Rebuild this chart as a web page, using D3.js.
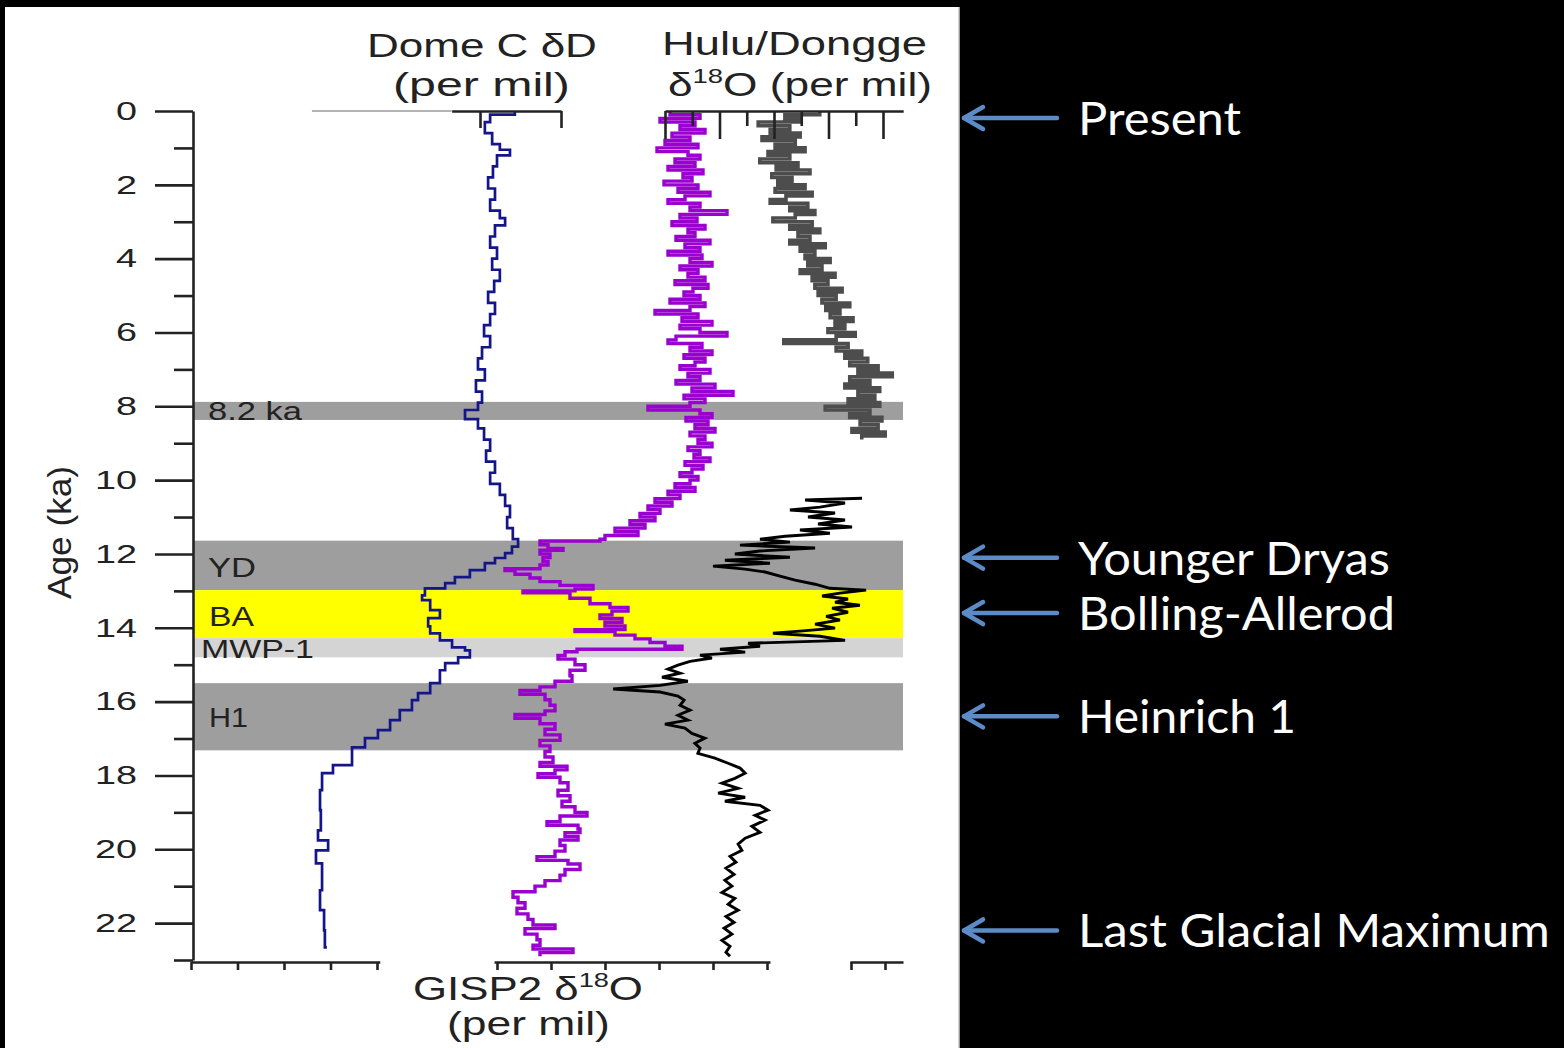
<!DOCTYPE html>
<html>
<head>
<meta charset="utf-8">
<script src="https://cdn.jsdelivr.net/npm/d3@7"></script>
<style>
  html, body { margin: 0; padding: 0; background: #000; }
  svg { display: block; }
</style>
</head>
<body>
<svg id="chart" width="1564" height="1048"></svg>
<script>
// ---- data (age in ka, isotope values in per mil) ----

// Dome C deltaD (blue)
const domeAge = [
  0.0, 0.1, 0.3, 0.6, 0.9, 1.05, 1.2, 1.5, 1.8, 2.1,
  2.4, 2.7, 2.9, 3.1, 3.4, 3.7, 4.0, 4.3, 4.6, 4.9,
  5.2, 5.5, 5.8, 6.1, 6.4, 6.7, 7.0, 7.3, 7.6, 7.9,
  8.1, 8.35, 8.6, 8.9, 9.2, 9.5, 9.8, 10.1, 10.4, 10.7,
  11.0, 11.3, 11.6, 11.8, 11.98, 12.11, 12.25, 12.44, 12.63, 12.79,
  12.93, 13.12, 13.25, 13.52, 13.74, 13.96, 14.15, 14.34, 14.53, 14.61,
  14.80, 14.96, 15.15, 15.50, 15.77, 15.96, 16.23, 16.50, 16.77, 16.99,
  17.24, 17.72, 17.94, 18.40, 18.94, 19.49, 19.76, 20.03, 20.38, 21.11,
  21.65, 22.2, 22.66
];
const domeDD = [
  -391.4, -397.5, -398.8, -397.0, -395.1, -392.6, -395.8, -396.8, -398.0, -396.3,
  -397.5, -395.1, -393.8, -396.3, -397.5, -395.8, -397.0, -395.1, -396.5, -398.0,
  -396.3, -397.5, -399.0, -397.5, -399.5, -400.5, -398.8, -401.0, -399.5, -400.5,
  -403.7, -400.5, -399.0, -397.5, -398.5, -396.3, -397.5, -395.1, -393.8, -392.6,
  -393.3, -391.9, -390.6, -392.1, -393.8, -396.3, -398.8, -402.5, -406.2, -408.6,
  -413.6, -414.3, -412.3, -409.9, -412.8, -412.3, -409.9, -406.9, -403.7, -402.5,
  -405.4, -408.6, -409.9, -412.3, -415.3, -416.8, -419.8, -422.2, -425.2, -428.4,
  -431.6, -436.3, -439.0, -439.5, -439.3, -440.0, -437.5, -440.5, -439.0, -439.5,
  -438.5, -438.3, -437.8
];

// Hulu cave d18O (purple)
const huluAge = [
  0.0, 0.1, 0.2, 0.3, 0.4, 0.5, 0.6, 0.7, 0.8, 0.9,
  1.0, 1.1, 1.2, 1.3, 1.4, 1.5, 1.6, 1.7, 1.8, 1.9,
  2.0, 2.1, 2.2, 2.3, 2.4, 2.5, 2.6, 2.7, 2.8, 2.9,
  3.0, 3.1, 3.2, 3.3, 3.4, 3.5, 3.6, 3.7, 3.8, 3.9,
  4.0, 4.1, 4.2, 4.3, 4.4, 4.5, 4.6, 4.7, 4.8, 4.9,
  5.0, 5.1, 5.2, 5.3, 5.4, 5.5, 5.6, 5.7, 5.8, 5.9,
  6.0, 6.1, 6.2, 6.3, 6.4, 6.5, 6.6, 6.7, 6.8, 6.9,
  7.0, 7.1, 7.2, 7.3, 7.4, 7.5, 7.6, 7.7, 7.8, 7.9,
  8.0, 8.1, 8.2, 8.3, 8.4, 8.5, 8.6, 8.7, 8.8, 8.9,
  9.0, 9.1, 9.2, 9.3, 9.4, 9.5, 9.6, 9.7, 9.8, 9.9,
  10.0, 10.1, 10.2, 10.3, 10.4, 10.5, 10.6, 10.7, 10.8, 10.9,
  11.0, 11.1, 11.2, 11.3, 11.4, 11.5, 11.6,
  11.65, 11.75, 11.85, 11.9, 12.0, 12.1, 12.2, 12.3, 12.4, 12.45,
  12.55, 12.65, 12.75, 12.85, 12.95, 13.0, 13.05, 13.2, 13.35, 13.45,
  13.55, 13.65, 13.75, 13.85, 13.95, 14.05, 14.1, 14.2, 14.3, 14.4,
  14.5, 14.58, 14.65, 14.75, 14.85, 15.0, 15.15, 15.3, 15.45, 15.6,
  15.7, 15.8, 15.95, 16.1, 16.25, 16.35, 16.45, 16.6, 16.75, 16.9,
  17.05, 17.2, 17.35, 17.5, 17.65, 17.75, 17.85, 17.95, 18.05, 18.2,
  18.4, 18.55, 18.7, 18.85, 19.0, 19.1, 19.25, 19.35, 19.45, 19.55,
  19.65, 19.75, 19.9, 20.05, 20.2, 20.3, 20.4, 20.55, 20.7, 20.85,
  21.0, 21.15, 21.3, 21.45, 21.6, 21.75, 21.9, 22.05, 22.15, 22.3,
  22.45, 22.6, 22.7, 22.8, 22.9
];
const huluD18O = [
  -8.6, -9.2, -8.4, -9.1, -8.8, -9.3, -8.64, -9.0, -8.5, -9.16,
  -8.34, -8.96, -9.2, -8.7, -9.1, -8.56, -9.26, -8.86, -9.04, -8.48,
  -9.16, -8.76, -9.4, -8.9, -8.56, -9.2, -9.0, -9.74, -8.8, -9.14,
  -8.64, -9.3, -8.96, -9.1, -8.72, -9.4, -8.9, -9.2, -8.56, -9.24,
  -9.0, -9.44, -8.8, -9.16, -8.96, -9.3, -8.7, -9.36, -9.06, -8.88,
  -9.2, -8.6, -9.3, -9.0, -8.3, -9.16, -8.84, -9.44, -8.8, -9.2,
  -9.74, -8.72, -8.56, -9.24, -9.0, -9.44, -8.88, -9.3, -9.1, -8.8,
  -9.4, -8.96, -9.2, -8.72, -9.5, -9.04, -9.86, -8.88, -9.3, -9.0,
  -8.16, -9.2, -9.44, -8.92, -9.36, -9.1, -9.5, -9.0, -9.3, -9.16,
  -9.44, -8.96, -9.2, -9.08, -9.4, -8.9, -9.26, -9.04, -8.8, -9.16,
  -9.0, -8.7, -9.1, -8.56, -8.8, -8.3, -8.64, -8.16, -8.4, -8.0,
  -8.3, -7.8, -8.1, -7.5, -7.96, -7.3, -7.2,
  -6.0, -6.16, -6.46, -6.0, -6.2, -6.06, -6.16, -6.0, -5.3, -5.5,
  -5.8, -6.0, -6.4, -7.06, -6.7, -5.66, -6.6, -7.0, -7.4, -7.76,
  -7.44, -7.2, -7.64, -7.3, -7.7, -6.7, -7.5, -7.9, -8.2, -8.5,
  -8.84, -6.74, -6.5, -6.36, -6.7, -6.9, -6.6, -6.64, -6.3, -6.0,
  -5.6, -6.1, -6.2, -6.3, -6.1, -5.5, -6.0, -6.3, -6.1, -6.4,
  -6.0, -6.2, -6.1, -6.26, -6.0, -6.54, -6.3, -5.96, -6.4, -6.56,
  -6.36, -6.6, -6.44, -6.7, -6.94, -6.4, -6.14, -6.76, -6.8, -6.5,
  -6.76, -6.4, -6.5, -6.3, -5.94, -6.56, -6.8, -6.5, -6.4, -6.1,
  -5.9, -5.46, -5.56, -5.7, -5.54, -5.76, -5.86, -6.3, -5.7, -5.94,
  -6.0, -5.86, -6.66, -6.0, -6.0
];

// Dongge cave d18O (dark grey)
const donggeAge = [
  0.0, 0.1, 0.2, 0.3, 0.4, 0.5, 0.6, 0.7, 0.8, 0.9,
  1.0, 1.1, 1.2, 1.3, 1.4, 1.5, 1.6, 1.7, 1.8, 1.9,
  2.0, 2.1, 2.2, 2.3, 2.4, 2.5, 2.6, 2.7, 2.8, 2.9,
  3.0, 3.1, 3.2, 3.3, 3.4, 3.5, 3.6, 3.7, 3.8, 3.9,
  4.0, 4.1, 4.2, 4.3, 4.4, 4.5, 4.6, 4.7, 4.8, 4.9,
  5.0, 5.1, 5.2, 5.3, 5.4, 5.5, 5.6, 5.7, 5.8, 5.9,
  6.0, 6.1, 6.2, 6.3, 6.4, 6.5, 6.6, 6.7, 6.8, 6.9,
  7.0, 7.1, 7.2, 7.3, 7.4, 7.5, 7.6, 7.7, 7.8, 7.9,
  8.0, 8.1, 8.2, 8.3, 8.4, 8.5, 8.6, 8.7, 8.8, 8.9
];
const donggeD18O = [
  -8.84, -8.20, -8.48, -7.71, -8.29, -7.93, -8.48, -7.78, -8.39, -8.02,
  -8.57, -7.89, -8.29, -7.74, -8.44, -8.04, -8.66, -7.96, -8.33, -8.07,
  -8.57, -8.02, -8.70, -8.22, -7.93, -8.62, -8.29, -8.75, -8.39, -7.98,
  -8.70, -8.29, -8.84, -8.44, -8.66, -8.29, -8.94, -8.48, -8.75, -8.57,
  -9.03, -8.62, -8.88, -8.48, -9.12, -8.70, -8.99, -8.75, -9.25, -8.81,
  -9.14, -8.88, -9.39, -8.95, -9.21, -9.03, -9.45, -9.12, -9.30, -8.99,
  -9.49, -9.14, -8.18, -9.36, -9.14, -9.61, -9.30, -9.72, -9.39, -9.91,
  -9.54, -10.17, -9.39, -9.76, -9.30, -9.94, -9.54, -9.85, -9.36, -9.94,
  -8.94, -9.76, -9.39, -9.98, -9.58, -9.91, -9.43, -10.04, -9.61, -9.61
];

// GISP2 d18O (black)
const gispAge = [
  10.49, 10.54, 10.62, 10.73, 10.81, 10.89, 11.0, 11.08, 11.19, 11.27,
  11.35, 11.44, 11.52, 11.6, 11.68, 11.76, 11.84, 11.92, 12.0, 12.09,
  12.17, 12.25, 12.33, 12.41, 12.49, 12.6, 12.71, 12.82, 12.93, 12.98,
  13.06, 13.14, 13.22, 13.31, 13.39, 13.47, 13.58, 13.69, 13.79, 13.9,
  14.01, 14.09, 14.15, 14.23, 14.34, 14.42, 14.5, 14.58, 14.66, 14.74,
  14.82, 14.91, 15.01, 15.12, 15.23, 15.34, 15.45, 15.56, 15.66, 15.74,
  15.85, 15.96, 16.1, 16.23, 16.37, 16.5, 16.61, 16.72, 16.86, 16.99,
  17.13, 17.26, 17.4, 17.53, 17.67, 17.8, 17.94, 18.08, 18.21, 18.35,
  18.48, 18.59, 18.7, 18.81, 18.94, 19.08, 19.21, 19.38, 19.54, 19.7,
  19.86, 20.03, 20.19, 20.35, 20.51, 20.68, 20.84, 21.0, 21.17, 21.33,
  21.49, 21.65, 21.82, 21.98, 22.14, 22.3, 22.47, 22.63, 22.79, 22.9
];
const gispD18O = [
  -34.48, -36.59, -35.11, -36.04, -37.15, -35.48, -36.48, -35.11, -36.11, -34.85,
  -36.78, -35.67, -37.33, -38.26, -37.15, -39.0, -36.22, -38.26, -39.19, -37.15,
  -39.56, -37.89, -40.0, -38.81, -38.07, -37.52, -36.96, -36.22, -35.67, -34.33,
  -35.30, -35.96, -35.0, -35.48, -34.56, -35.59, -35.0, -35.81, -35.30, -36.22,
  -35.48, -36.78, -37.78, -36.04, -35.11, -38.70, -38.26, -39.74, -38.81, -40.48,
  -40.04, -40.85, -41.30, -41.67, -41.22, -41.89, -40.93, -41.96, -43.70, -41.96,
  -41.30, -41.07, -41.22, -40.85, -41.30, -40.93, -41.78, -41.04, -40.78, -40.30,
  -40.67, -40.48, -40.56, -39.93, -39.44, -39.0, -38.81, -39.19, -39.67, -39.07,
  -39.81, -38.81, -39.56, -38.26, -37.96, -38.44, -38.07, -38.56, -38.26, -38.81,
  -39.07, -38.93, -39.37, -39.15, -39.52, -39.22, -39.56, -39.30, -39.67, -39.19,
  -39.44, -39.07, -39.52, -39.22, -39.59, -39.30, -39.67, -39.37, -39.52, -39.37
];

// climate events shaded on the chart
const bandNames = ['8.2 ka', 'YD', 'BA', 'MWP-1', 'H1'];
const bandFrom = [7.88, 11.64, 12.98, 14.28, 15.5];
const bandTo = [8.37, 12.98, 14.28, 14.8, 17.32];

// annotations on the right
const eventNames = ['Present', 'Younger Dryas', 'Bolling-Allerod', 'Heinrich 1', 'Last Glacial Maximum'];
const eventAges = [0.19, 12.1, 13.6, 16.4, 22.2];

// tick values
const ageMajor = [0, 2, 4, 6, 8, 10, 12, 14, 16, 18, 20, 22];
const ageMinor = [1, 3, 5, 7, 9, 11, 13, 15, 17, 19, 21, 23];
const domeTicks = [-400, -380];
const donggeMajor = [-6, -7, -8, -9, -10];
const donggeMinor = [-6.5, -7.5, -8.5, -9.5];
const gispTicks = [-48, -46, -44, -42, -40, -38];
const leftStubTicks = [-60, -55, -50, -45, -40];
const rightStubTicks = [0, 1];

// ---- styles / layout ----
const chartFont = '"Liberation Sans", Arial, Helvetica, sans-serif';
const ink = '#222';
const bandFill = ['#9e9e9e', '#9e9e9e', '#ffff00', '#d4d4d4', '#9e9e9e'];
const bandText = [
  { x: 208, y: 420, size: 25, w: 94 },
  { x: 208, y: 577, size: 28, w: 48 },
  { x: 209, y: 626, size: 28, w: 45 },
  { x: 201, y: 658, size: 25, w: 113 },
  { x: 209, y: 727, size: 28, w: 39 }
];
const eventTextWidth = [163, 312, 317, 218, 472];
const arrowColor = '#5b8cc8';

const svg = d3.select('#chart');
const W = 1564, H = 1048;
const plotLeft = 193, plotRight = 903;

svg.append('rect').attr('width', W).attr('height', H).attr('fill', '#000');
svg.append('rect').attr('x', 5).attr('y', 7).attr('width', 954).attr('height', H - 7).attr('fill', '#fff');
svg.append('line').attr('x1', 959).attr('x2', 959).attr('y1', 7).attr('y2', H)
  .attr('stroke', '#c8c8c8').attr('stroke-width', 1.5);

// scales
const ageY = d3.scaleLinear().domain([0, 23]).range([111, 960]);
const domeX = d3.scaleLinear().domain([-400, -380]).range([480, 561]);
const huluX = d3.scaleLinear().domain([-6, -9]).range([540, 690]);
const donggeX = d3.scaleLinear().domain([-6, -10]).range([665, 883]);
const gispX = d3.scaleLinear().domain([-48, -38]).range([497, 767]);
const leftStubX = d3.scaleLinear().domain([-60, -40]).range([191, 377]);
const rightStubX = d3.scaleLinear().domain([0, 1]).range([851, 885]);

// shaded bands
svg.append('g').selectAll('rect')
  .data(bandFrom)
  .join('rect')
  .attr('x', plotLeft)
  .attr('width', plotRight - plotLeft)
  .attr('y', d => ageY(d))
  .attr('height', (d, i) => ageY(bandTo[i]) - ageY(d))
  .attr('fill', (d, i) => bandFill[i]);

// text with horizontal fit to a target width
function fitText(parent, parts, x, y, size, width, fill, family) {
  const g = parent.append('g').attr('transform', `translate(${x},${y})`);
  const t = g.append('text')
    .attr('font-size', size)
    .attr('font-family', family)
    .attr('fill', fill);
  let shift = 0;
  parts.forEach(p => {
    if (typeof p === 'string') {
      t.append('tspan').attr('dy', shift).text(p);
      shift = 0;
    } else {
      t.append('tspan').attr('font-size', size * 0.62).attr('dy', -size * 0.4).text(p.sup);
      shift = size * 0.4;
    }
  });
  const w = t.node().getComputedTextLength();
  t.attr('transform', `scale(${width / w},1)`);
  return g;
}

// band labels
bandNames.forEach((name, i) => {
  const b = bandText[i];
  fitText(svg, [name], b.x, b.y, b.size, b.w, ink, chartFont);
});

// series
function drawSeries(ages, vals, xs, color, width, curve) {
  const pts = ages.map((a, i) => [xs(vals[i]), ageY(a)]);
  svg.append('path')
    .datum(pts)
    .attr('d', d3.line().curve(curve))
    .attr('fill', 'none')
    .attr('stroke', color)
    .attr('stroke-width', width)
    .attr('stroke-linejoin', 'miter');
}

drawSeries(domeAge, domeDD, domeX, '#15158a', 2.7, d3.curveStepBefore);
drawSeries(huluAge, huluD18O, huluX, '#9a00d0', 3.4, d3.curveStepBefore);
drawSeries(donggeAge, donggeD18O, donggeX, '#4d4d4d', 3.6, d3.curveStepBefore);
drawSeries(gispAge, gispD18O, gispX, '#000', 2.9, d3.curveLinear);

// axes
function styleAxis(g) {
  g.select('.domain').attr('stroke', ink).attr('stroke-width', 2.6);
  g.selectAll('.tick line').attr('stroke', ink).attr('stroke-width', 2.6);
}

// age axis
const ageAxis = svg.append('g')
  .attr('transform', `translate(${plotLeft},0)`)
  .call(d3.axisLeft(ageY).tickValues(ageMajor).tickSize(38).tickPadding(18).tickSizeOuter(0))
  .call(styleAxis)
  .attr('font-size', 26)
  .attr('font-family', chartFont);
ageAxis.selectAll('.tick text')
  .attr('fill', ink)
  .each(function (d) {
    const w = this.getComputedTextLength();
    const target = String(d).length * 21;
    d3.select(this).attr('x', 0)
      .attr('transform', `translate(-56,0) scale(${target / w},1)`);
  });
svg.append('g')
  .attr('transform', `translate(${plotLeft},0)`)
  .call(d3.axisLeft(ageY).tickValues(ageMinor).tickSize(19).tickFormat('').tickSizeOuter(0))
  .call(styleAxis)
  .call(g => g.select('.domain').remove());

const topY = ageY(0);
const bottomY = 962;

// Dome C axis (top, labels hidden in the original)
svg.append('line')
  .attr('x1', domeX(-441.5)).attr('x2', domeX(-407))
  .attr('y1', topY).attr('y2', topY)
  .attr('stroke', '#b4b4b4').attr('stroke-width', 2);
svg.append('g')
  .attr('transform', `translate(0,${topY})`)
  .call(d3.axisBottom(domeX.copy().domain([-407, -380]).range([domeX(-407), domeX(-380)]))
    .tickValues(domeTicks).tickSize(17).tickFormat('').tickSizeOuter(0))
  .call(styleAxis);

// Hulu/Dongge axis (top right)
const donggeAxisX = donggeX.copy().domain([-6, -10.37]).range([donggeX(-6), donggeX(-10.37)]);
svg.append('g')
  .attr('transform', `translate(0,${topY})`)
  .call(d3.axisBottom(donggeAxisX).tickValues(donggeMajor).tickSize(28).tickFormat('').tickSizeOuter(0))
  .call(styleAxis);
svg.append('g')
  .attr('transform', `translate(0,${topY})`)
  .call(d3.axisBottom(donggeAxisX).tickValues(donggeMinor).tickSize(15).tickFormat('').tickSizeOuter(0))
  .call(styleAxis)
  .call(g => g.select('.domain').remove());

// bottom axes
svg.append('g')
  .attr('transform', `translate(0,${bottomY})`)
  .call(d3.axisBottom(leftStubX.copy().domain([-60, -39.7]).range([leftStubX(-60), leftStubX(-39.7)]))
    .tickValues(leftStubTicks).tickSize(8).tickFormat('').tickSizeOuter(0))
  .call(styleAxis);
svg.append('g')
  .attr('transform', `translate(0,${bottomY})`)
  .call(d3.axisBottom(gispX.copy().domain([-48.11, -37.89]).range([gispX(-48.11), gispX(-37.89)]))
    .tickValues(gispTicks).tickSize(8).tickFormat('').tickSizeOuter(0))
  .call(styleAxis);
svg.append('g')
  .attr('transform', `translate(0,${bottomY})`)
  .call(d3.axisBottom(rightStubX.copy().domain([-0.03, 1.53]).range([rightStubX(-0.03), rightStubX(1.53)]))
    .tickValues(rightStubTicks).tickSize(8).tickFormat('').tickSizeOuter(0))
  .call(styleAxis);

// axis titles
fitText(svg, ['Dome C \u03B4D'], 367, 57, 33, 230, ink, chartFont);
fitText(svg, ['(per mil)'], 393, 96, 33, 177, ink, chartFont);
fitText(svg, ['Hulu/Dongge'], 662, 55, 33, 265, ink, chartFont);
fitText(svg, ['\u03B4', { sup: '18' }, 'O (per mil)'], 668, 96, 33, 264, ink, chartFont);
fitText(svg, ['GISP2 \u03B4', { sup: '18' }, 'O'], 413, 1000, 33, 230, ink, chartFont);
fitText(svg, ['(per mil)'], 447, 1035, 33, 163, ink, chartFont);

const ageTitle = svg.append('g').attr('transform', 'translate(71,533) rotate(-90)');
fitText(ageTitle, ['Age (ka)'], -66, 0, 34, 133, ink, chartFont);

// right-hand annotations
eventAges.forEach((a, i) => {
  const y = ageY(a);
  const g = svg.append('g')
    .attr('stroke', arrowColor)
    .attr('stroke-width', 4.5)
    .attr('fill', 'none')
    .attr('stroke-linecap', 'round');
  g.append('line').attr('x1', 964).attr('x2', 1057).attr('y1', y).attr('y2', y);
  g.append('path').attr('d', `M983,${y - 11}L964,${y}L983,${y + 11}`).attr('stroke-linejoin', 'round');
  fitText(svg, [eventNames[i]], 1078, y + 17, 46, eventTextWidth[i], '#fff', 'Lato, "Open Sans", sans-serif');
});
</script>
</body>
</html>
